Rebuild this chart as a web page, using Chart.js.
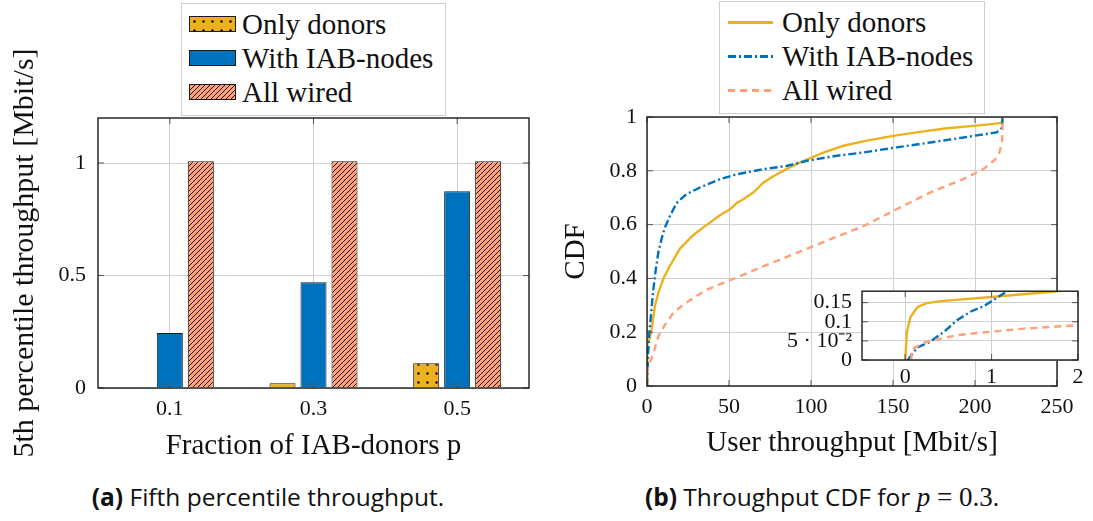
<!DOCTYPE html>
<html>
<head>
<meta charset="utf-8">
<title>IAB throughput</title>
<script src="https://cdn.jsdelivr.net/npm/chart.js@4.4.0/dist/chart.umd.min.js"></script>
<style>
  body { margin: 0; background: #fff; }
  #page { position: relative; width: 1093px; height: 521px; overflow: hidden; font-family: "Liberation Serif", serif; color: #111; }
  .pane { position: absolute; }
  .legend { position: absolute; z-index: 3; background: #fff; border: 1px solid #cfcfcf; box-sizing: border-box; padding: 3px 0 0 7px; font-family: "Liberation Serif", serif; font-size: 29px; }
  .legend .row { display: flex; align-items: center; height: 34px; white-space: nowrap; }
  .legend .sw { width: 47px; height: 16px; border: 1px solid #1a1a1a; box-sizing: border-box; margin-right: 6px; flex: none; }
  .legend .ln { width: 45px; height: 3px; margin-right: 9px; flex: none; }
  .caption { position: absolute; top: 481px; transform: translateX(-50%); white-space: nowrap; font-family: "Open Sans", sans-serif; font-size: 24.5px; line-height: 32px; }
  .caption b { font-weight: 700; }
  .caption .m { font-family: "Liberation Serif", serif; font-size: 27px; }
</style>
</head>
<body>
<div id="page">
  <div class="pane" style="left:0;top:0"><canvas id="barChart" width="560" height="470"></canvas></div>
  <div class="pane" style="left:540px;top:0"><canvas id="cdfChart" width="553" height="470"></canvas></div>
  <div class="pane" style="left:780px;top:268px;z-index:2"><canvas id="insetChart" width="313" height="125"></canvas></div>

  <div class="legend" style="left:181px;top:3px;width:265px;height:113px">
    <div class="row"><div class="sw" id="swDonors"></div>Only donors</div>
    <div class="row"><div class="sw" id="swIab"></div>With IAB-nodes</div>
    <div class="row"><div class="sw" id="swWired"></div>All wired</div>
  </div>
  <div class="legend" style="left:719px;top:1px;width:266px;height:113px;padding-left:8px">
    <div class="row"><div class="ln" id="lnDonors"></div>Only donors</div>
    <div class="row"><div class="ln" id="lnIab"></div>With IAB-nodes</div>
    <div class="row"><div class="ln" id="lnWired"></div>All wired</div>
  </div>

  <div class="caption" style="left:268px"><b>(a)</b> Fifth percentile throughput.</div>
  <div class="caption" style="left:822px"><b>(b)</b> Throughput CDF for <span class="m"><i>p</i> = 0.3</span>.</div>
</div>

<script>
// 5th percentile throughput per fraction of IAB-donors
const fractions = ['0.1', '0.3', '0.5'];
const onlyDonors5th = [0, 0.021, 0.11];
const withIab5th = [0.245, 0.47, 0.874];
const allWired5th = [1.008, 1.008, 1.008];

// throughput CDF for p = 0.3 (rate in Mbit/s, cumulative fraction)
const donorsRate = [0, 0.02, 0.06, 0.14, 0.25, 0.41, 1.0, 1.76, 2.8, 4.9, 6.9, 10, 14, 20, 26, 30, 36, 44.5, 50.6, 54.7, 58.7, 64.8, 70.9, 77, 85, 93.3, 100.4, 107.5, 119.7, 134, 150, 164.4, 182.7, 201, 216.3, 216.7];
const donorsCdf = [0, 0.074, 0.112, 0.138, 0.149, 0.154, 0.165, 0.18, 0.21, 0.3, 0.345, 0.4, 0.447, 0.51, 0.548, 0.57, 0.597, 0.635, 0.657, 0.68, 0.694, 0.719, 0.756, 0.78, 0.806, 0.831, 0.849, 0.868, 0.893, 0.912, 0.93, 0.943, 0.958, 0.968, 0.978, 1];

const iabRate = [0.03, 0.14, 0.29, 0.45, 0.6, 0.76, 0.91, 1.07, 1.18, 1.8, 2.8, 3.9, 5.5, 7, 9, 11, 14, 18, 24, 32, 44.5, 54.7, 70.9, 85, 97.4, 115.7, 132, 152, 172.6, 193, 213.2, 216.5, 216.8];
const iabCdf = [0, 0.033, 0.048, 0.074, 0.104, 0.127, 0.141, 0.164, 0.18, 0.22, 0.29, 0.36, 0.44, 0.5, 0.55, 0.59, 0.632, 0.68, 0.713, 0.737, 0.769, 0.787, 0.806, 0.818, 0.837, 0.856, 0.868, 0.887, 0.905, 0.924, 0.943, 0.96, 1];

const wiredRate = [0.07, 0.078, 0.21, 0.37, 0.6, 0.99, 1.37, 2.0, 3.9, 6.9, 11, 16, 22, 28.2, 36.4, 46.5, 52.6, 70.9, 91.3, 111.6, 131.9, 152.2, 172.6, 192.9, 205, 212, 215, 216.5, 217];
const wiredCdf = [0, 0.028, 0.045, 0.054, 0.065, 0.074, 0.082, 0.091, 0.122, 0.184, 0.228, 0.271, 0.302, 0.327, 0.358, 0.383, 0.398, 0.445, 0.495, 0.545, 0.594, 0.657, 0.719, 0.769, 0.806, 0.84, 0.87, 0.91, 1];

const barTicks = [0, 0.5, 1];
const insetXTicks = [0, 1, 2];
const insetYTicks = [0, 0.05, 0.1, 0.15];

const GOLD = '#EDB120';
const BLUE = '#0072BD';
const SALMON = '#FFA07A';
const GRID = '#d0d0d0';
const TITLE_FONT = { size: 29, family: '"Liberation Serif", serif' };

Chart.defaults.color = '#111';
Chart.defaults.font.family = '"Liberation Serif", serif';
Chart.defaults.font.size = 22;
Chart.defaults.animation = false;

// pattern tiles for the bar fills
function dotTile() {
    const c = document.createElement('canvas');
    c.width = 9; c.height = 9;
    const g = c.getContext('2d');
    g.fillStyle = GOLD;
    g.fillRect(0, 0, 9, 9);
    g.fillStyle = '#000';
    g.beginPath();
    g.arc(4.5, 4.5, 1.2, 0, Math.PI * 2);
    g.fill();
    return c;
}

function hatchTile() {
    const s = 5;
    const c = document.createElement('canvas');
    c.width = s; c.height = s;
    const g = c.getContext('2d');
    g.fillStyle = SALMON;
    g.fillRect(0, 0, s, s);
    g.strokeStyle = '#000';
    g.lineWidth = 0.9;
    g.beginPath();
    g.moveTo(-1, s + 1); g.lineTo(s + 1, -1);
    g.moveTo(-1, 1); g.lineTo(1, -1);
    g.moveTo(s - 1, s + 1); g.lineTo(s + 1, s - 1);
    g.stroke();
    return c;
}

const dots = dotTile();
const hatch = hatchTile();
const barCtx = document.getElementById('barChart').getContext('2d');
const dotPattern = barCtx.createPattern(dots, 'repeat');
const hatchPattern = barCtx.createPattern(hatch, 'repeat');

document.getElementById('swDonors').style.background = `url(${dots.toDataURL()})`;
document.getElementById('swIab').style.background = BLUE;
document.getElementById('swWired').style.background = `url(${hatch.toDataURL()})`;
document.getElementById('lnDonors').style.background = GOLD;
document.getElementById('lnIab').style.background =
    `repeating-linear-gradient(90deg, ${BLUE} 0 8px, transparent 8px 11px, ${BLUE} 11px 13px, transparent 13px 16px)`;
document.getElementById('lnWired').style.background =
    `repeating-linear-gradient(90deg, ${SALMON} 0 7px, transparent 7px 12px)`;

// box around the plot area plus short inward tick marks on all four sides
const framePlugin = {
    id: 'frame',
    beforeDraw(chart, args, opts) {
        if (!opts.fill) return;
        const a = chart.chartArea;
        chart.ctx.save();
        chart.ctx.fillStyle = opts.fill;
        chart.ctx.fillRect(a.left, a.top, a.right - a.left, a.bottom - a.top);
        chart.ctx.restore();
    },
    afterDraw(chart) {
        const { ctx, chartArea: a, scales } = chart;
        const len = 6;
        ctx.save();
        ctx.strokeStyle = '#555';
        ctx.lineWidth = 1;
        ctx.beginPath();
        scales.y.ticks.forEach((t, i) => {
            const y = scales.y.getPixelForTick(i);
            ctx.moveTo(a.left, y); ctx.lineTo(a.left + len, y);
            ctx.moveTo(a.right, y); ctx.lineTo(a.right - len, y);
        });
        scales.x.ticks.forEach((t, i) => {
            const x = scales.x.getPixelForTick(i);
            ctx.moveTo(x, a.bottom); ctx.lineTo(x, a.bottom - len);
            ctx.moveTo(x, a.top); ctx.lineTo(x, a.top + len);
        });
        ctx.stroke();
        ctx.strokeStyle = '#1a1a1a';
        ctx.lineWidth = 1.4;
        ctx.strokeRect(a.left, a.top, a.right - a.left, a.bottom - a.top);
        ctx.restore();
    }
};

function fixWidth(w) { return s => { s.width = w; }; }
function fixHeight(h) { return s => { s.height = h; }; }
function setTicks(values) { return s => { s.ticks = values.map(v => ({ value: v })); }; }
const plainNumber = v => String(+Number(v).toFixed(3));

// (a) grouped bars
new Chart(barCtx, {
    type: 'bar',
    data: {
        labels: fractions,
        datasets: [
            { label: 'Only donors', data: onlyDonors5th, backgroundColor: dotPattern },
            { label: 'With IAB-nodes', data: withIab5th, backgroundColor: BLUE },
            { label: 'All wired', data: allWired5th, backgroundColor: hatchPattern }
        ]
    },
    options: {
        responsive: false,
        layout: { padding: { top: 118, right: 31, left: 0, bottom: 0 } },
        datasets: {
            bar: { borderColor: '#1a1a1a', borderWidth: 1, categoryPercentage: 0.647, barPercentage: 0.84 }
        },
        plugins: { legend: { display: false }, tooltip: { enabled: false } },
        scales: {
            x: {
                grid: { color: GRID, offset: false, drawTicks: false },
                border: { display: false },
                ticks: { padding: 8, autoSkip: false },
                title: { display: true, text: 'Fraction of IAB-donors p', font: TITLE_FONT, padding: { top: 0, bottom: 6.5 } },
                afterFit: fixHeight(82)
            },
            y: {
                min: 0, max: 1.2,
                grid: { color: GRID, drawTicks: false },
                border: { display: false },
                ticks: { padding: 12, autoSkip: false, callback: plainNumber },
                afterBuildTicks: setTicks(barTicks),
                title: { display: true, text: '5th percentile throughput [Mbit/s]', font: { size: 30, family: TITLE_FONT.family }, padding: { top: 7, bottom: 0 } },
                afterFit: fixWidth(98)
            }
        }
    },
    plugins: [framePlugin]
});

function toPoints(xs, ys) {
    return xs.map((x, i) => ({ x: x, y: ys[i] }));
}

function cdfDatasets() {
    return [
        { label: 'Only donors', data: toPoints(donorsRate, donorsCdf), borderColor: GOLD, order: 2 },
        { label: 'With IAB-nodes', data: toPoints(iabRate, iabCdf), borderColor: BLUE, borderDash: [8, 3, 2, 3], order: 1 },
        { label: 'All wired', data: toPoints(wiredRate, wiredCdf), borderColor: SALMON, borderDash: [7, 5], order: 0 }
    ];
}

const lineDefaults = { borderWidth: 2.4, pointRadius: 0, tension: 0, fill: false };

// (b) CDF
new Chart(document.getElementById('cdfChart'), {
    type: 'line',
    data: { datasets: cdfDatasets() },
    options: {
        responsive: false,
        layout: { padding: { top: 117, right: 36, left: 0, bottom: 0 } },
        datasets: { line: lineDefaults },
        plugins: { legend: { display: false }, tooltip: { enabled: false } },
        scales: {
            x: {
                type: 'linear', min: 0, max: 250,
                grid: { color: GRID, drawTicks: false },
                border: { display: false },
                ticks: { stepSize: 50, padding: 8, autoSkip: false },
                title: { display: true, text: 'User throughput [Mbit/s]', font: TITLE_FONT, padding: { top: 0, bottom: 9.5 } },
                afterFit: fixHeight(84)
            },
            y: {
                min: 0, max: 1,
                grid: { color: GRID, drawTicks: false },
                border: { display: false },
                ticks: { stepSize: 0.2, padding: 10, autoSkip: false, callback: plainNumber },
                title: { display: true, text: 'CDF', font: TITLE_FONT, padding: { top: 18.5, bottom: 0 } },
                afterFit: fixWidth(107)
            }
        }
    },
    plugins: [framePlugin]
});

// zoomed view of the low-rate tail
new Chart(document.getElementById('insetChart'), {
    type: 'line',
    data: { datasets: cdfDatasets() },
    options: {
        responsive: false,
        layout: { padding: { top: 11, right: 15, left: 0, bottom: 0 } },
        datasets: { line: lineDefaults },
        plugins: { legend: { display: false }, tooltip: { enabled: false }, frame: { fill: '#fff' } },
        scales: {
            x: {
                type: 'linear', min: -0.5, max: 2,
                grid: { color: GRID, drawTicks: false },
                border: { display: false },
                ticks: { padding: 4, autoSkip: false, callback: plainNumber },
                afterBuildTicks: setTicks(insetXTicks),
                afterFit: fixHeight(33)
            },
            y: {
                min: 0, max: 0.18,
                grid: { color: GRID, drawTicks: false },
                border: { display: false },
                ticks: { padding: 10, autoSkip: false, callback: v => v === 0.05 ? '5 · 10⁻²' : plainNumber(v) },
                afterBuildTicks: setTicks(insetYTicks),
                afterFit: fixWidth(82)
            }
        }
    },
    plugins: [framePlugin]
});
</script>
</body>
</html>
